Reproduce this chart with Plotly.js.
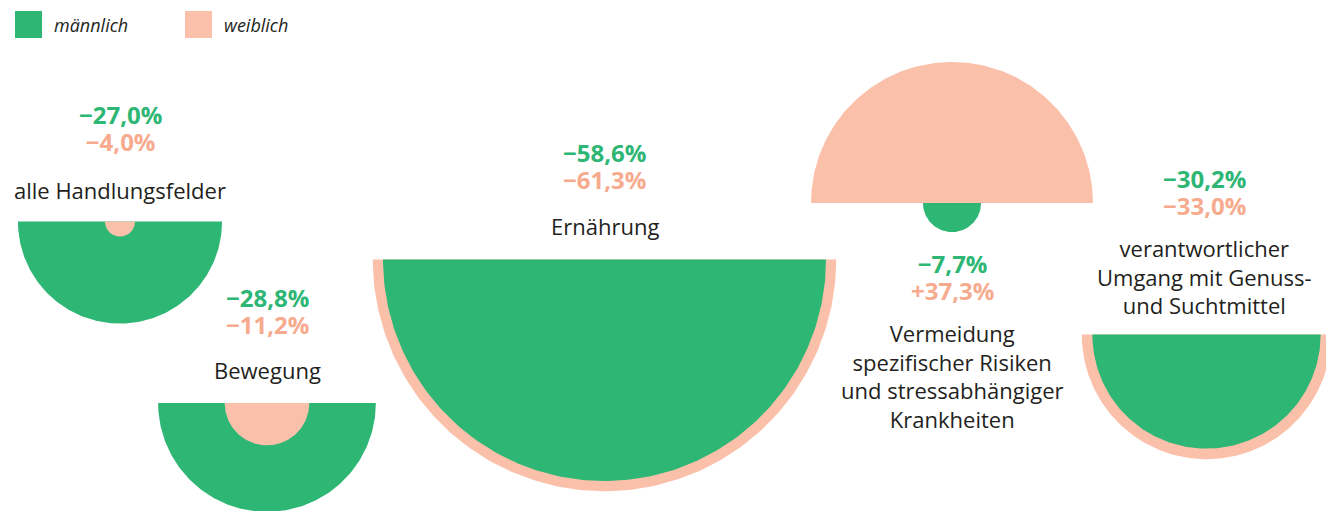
<!DOCTYPE html>
<html>
<head>
<meta charset="utf-8">
<script src="https://cdn.plot.ly/plotly-3.0.1.min.js"></script>
<style>
html,body{margin:0;padding:0;background:#ffffff;overflow:hidden}
#chart{width:1326px;height:511px}
</style>
</head>
<body>
<div id="chart"></div>
<script>
// ---- data (Veränderung in %) ----
const categories = [
  "alle Handlungsfelder",
  "Bewegung",
  "Ernährung",
  "Vermeidung<br>spezifischer Risiken<br>und stressabhängiger<br>Krankheiten",
  "verantwortlicher<br>Umgang mit Genuss-<br>und Suchtmittel"
];
const maleChange = [-27.0, -28.8, -58.6, -7.7, -30.2];
const femaleChange = [-4.0, -11.2, -61.3, 37.3, -33.0];
const seriesNames = ["männlich", "weiblich"];

// ---- styling / layout (not data) ----
const GREEN = "#2db674";
const SALMON = "#fac0aa";
const SALMON_TEXT = "#f6ab8e";
const TEXT = "#231f20";
const FONT = "Open Sans";
const PX_PER_POINT = 3.78;            // radius scale: pixels per percentage point
const centerX = [120, 267, 604.5, 952, 1206.5];
const baseY   = [221.5, 403, 259.5, 203, 334.5];
const textX   = [120, 267, 604.5, 952, 1204];
const numY    = [128, 311, 166, 277, 191.5];   // centre of the two-line value block
const labelY  = [190, 370, 226, 376, 276.5];

function fmt(v) {
  return (v < 0 ? "\u2212" : "+") + Math.abs(v).toFixed(1).replace(".", ",") + "%";
}

function semicircle(cx, cy, value, color, name) {
  const r = Math.abs(value) * PX_PER_POINT;
  const dir = value < 0 ? 1 : -1;       // negative: below baseline
  const xs = [], ys = [];
  const N = 180;
  for (let i = 0; i <= N; i++) {
    const t = Math.PI * i / N;
    xs.push(cx + r * Math.cos(t));
    ys.push(cy + dir * r * Math.sin(t));
  }
  xs.push(xs[0]); ys.push(ys[0]);
  return {
    type: "scatter", mode: "lines", x: xs, y: ys,
    fill: "toself", fillcolor: color,
    line: {width: 0, color: color},
    hoverinfo: "skip", showlegend: false, name: name
  };
}

const traces = [];
const annotations = [];
categories.forEach((cat, i) => {
  const m = semicircle(centerX[i], baseY[i], maleChange[i], GREEN, seriesNames[0]);
  const f = semicircle(centerX[i], baseY[i], femaleChange[i], SALMON, seriesNames[1]);
  if (Math.abs(femaleChange[i]) >= Math.abs(maleChange[i])) { traces.push(f, m); }
  else { traces.push(m, f); }

  annotations.push({
    x: textX[i], y: numY[i], xref: "x", yref: "y", showarrow: false,
    xanchor: "center", yanchor: "middle", align: "center",
    text: '<span style="color:' + GREEN + ';font-size:24px">' + fmt(maleChange[i]) + '</span><br>' +
          '<span style="color:' + SALMON_TEXT + ';font-size:24px">' + fmt(femaleChange[i]) + '</span>',
    font: {family: FONT, size: 21, weight: 700, color: GREEN}
  });
  annotations.push({
    x: textX[i], y: labelY[i], xref: "x", yref: "y", showarrow: false,
    xanchor: "center", yanchor: "middle", align: "center",
    text: cat,
    font: {family: FONT, size: 22, color: TEXT}
  });
});

// legend (squares + italic labels)
const legendX = [15, 185];
const legendColors = [GREEN, SALMON];
const shapes = [];
seriesNames.forEach((n, k) => {
  shapes.push({
    type: "rect", xref: "x", yref: "y",
    x0: legendX[k], x1: legendX[k] + 27, y0: 11, y1: 38,
    fillcolor: legendColors[k], line: {width: 0}
  });
  annotations.push({
    x: legendX[k] + 37, y: 24.5, xref: "x", yref: "y", showarrow: false,
    xanchor: "left", yanchor: "middle", text: n,
    font: {family: FONT, size: 18, style: "italic", color: TEXT}
  });
});

const layout = {
  width: 1326, height: 511,
  margin: {l: 0, r: 0, t: 0, b: 0, pad: 0},
  paper_bgcolor: "#ffffff", plot_bgcolor: "#ffffff",
  xaxis: {range: [0, 1326], visible: false, fixedrange: true},
  yaxis: {range: [511, 0], visible: false, fixedrange: true},
  showlegend: false,
  shapes: shapes,
  annotations: annotations
};

Plotly.newPlot("chart", traces, layout, {staticPlot: true, displayModeBar: false});
</script>
</body>
</html>
